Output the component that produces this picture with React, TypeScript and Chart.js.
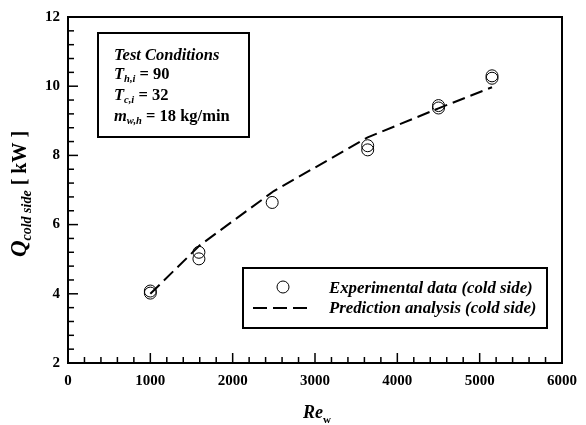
import React, { useEffect, useRef } from "react";
import { Chart, registerables } from "chart.js";

Chart.register(...registerables);

// Experimental data (cold side)
const expRe = [1000, 1000, 1590, 1590, 2480, 3640, 3640, 4500, 4500, 5150, 5150];
const expQ = [4.08, 4.02, 5.2, 5.01, 6.64, 8.28, 8.16, 9.44, 9.37, 10.3, 10.23];

// Prediction analysis (cold side)
const predRe = [1000, 1600, 2500, 3640, 4500, 5150];
const predQ = [4.0, 5.4, 6.97, 8.52, 9.36, 9.97];

const xTicks = [0, 1000, 2000, 3000, 4000, 5000, 6000];
const yTicks = [2, 4, 6, 8, 10, 12];

const SERIF = "'Liberation Serif', 'Times New Roman', serif";

function drawSub(ctx: CanvasRenderingContext2D, x: number, y: number, parts: [string, string, number][]) {
  let cx = x;
  for (const [text, font, dy] of parts) {
    ctx.font = font;
    ctx.fillText(text, cx, y + dy);
    cx += ctx.measureText(text).width;
  }
  return cx - x;
}

function measure(ctx: CanvasRenderingContext2D, parts: [string, string, number][]) {
  let w = 0;
  for (const [text, font] of parts) {
    ctx.font = font;
    w += ctx.measureText(text).width;
  }
  return w;
}

const decorPlugin = {
  id: "decor",
  afterDatasetsDraw(chart: any) {
    const ctx: CanvasRenderingContext2D = chart.ctx;
    const { left, right, top, bottom } = chart.chartArea;
    const xs = chart.scales.x;
    const ys = chart.scales.y;
    ctx.save();
    ctx.strokeStyle = "#000";
    ctx.fillStyle = "#000";
    // frame
    ctx.lineWidth = 2;
    ctx.strokeRect(left, top, right - left, bottom - top);
    // ticks (inward)
    ctx.lineWidth = 1.5;
    for (let v = xs.min; v <= xs.max + 1e-6; v += 200) {
      const major = Math.abs(v % 1000) < 1e-6;
      const px = xs.getPixelForValue(v);
      ctx.beginPath();
      ctx.moveTo(px, bottom);
      ctx.lineTo(px, bottom - (major ? 10 : 6));
      ctx.stroke();
    }
    for (let i = 0; i <= 25; i++) {
      const v = ys.min + i * 0.4;
      const major = i % 5 === 0;
      const py = ys.getPixelForValue(v);
      ctx.beginPath();
      ctx.moveTo(left, py);
      ctx.lineTo(left + (major ? 10 : 6), py);
      ctx.stroke();
    }

    // Test conditions box
    ctx.lineWidth = 2;
    ctx.strokeRect(98, 33, 151, 104);
    ctx.textBaseline = "alphabetic";
    ctx.textAlign = "left";
    const bi = `italic bold 16.5px ${SERIF}`;
    const b = `bold 16.5px ${SERIF}`;
    const sub = `italic bold 10.5px ${SERIF}`;
    ctx.font = bi;
    ctx.fillText("Test Conditions", 114, 60);
    drawSub(ctx, 114, 79, [["T", bi, 0], ["h,i", sub, 3], [" = 90", b, 0]]);
    drawSub(ctx, 114, 100, [["T", bi, 0], ["c,i", sub, 3], [" = 32", b, 0]]);
    drawSub(ctx, 114, 121, [["m", bi, 0], ["w,h", sub, 3], [" = 18 kg/min", b, 0]]);

    // legend box
    ctx.strokeRect(243, 268, 304, 60);
    ctx.lineWidth = 1;
    ctx.beginPath();
    ctx.arc(283, 287, 6, 0, Math.PI * 2);
    ctx.stroke();
    ctx.lineWidth = 2;
    ctx.setLineDash([14, 6]);
    ctx.beginPath();
    ctx.moveTo(253, 308);
    ctx.lineTo(308, 308);
    ctx.stroke();
    ctx.setLineDash([]);
    ctx.font = `italic bold 16.8px ${SERIF}`;
    ctx.fillText("Experimental data (cold side)", 329, 293);
    ctx.fillText("Prediction analysis (cold side)", 329, 313);

    // x title
    drawSub(ctx, 303, 418, [["Re", `italic bold 18px ${SERIF}`, 0], ["w", `bold 11px ${SERIF}`, 5]]);

    // y title
    const yParts: [string, string, number][] = [
      ["Q", `italic bold 23px ${SERIF}`, 0],
      ["cold side", `italic bold 14px ${SERIF}`, 5],
      [" [ kW ]", `bold 20px ${SERIF}`, 0],
    ];
    const tw = measure(ctx, yParts);
    ctx.translate(26, 194 + tw / 2);
    ctx.rotate(-Math.PI / 2);
    drawSub(ctx, 0, 0, yParts);
    ctx.restore();
  },
};

export default function App() {
  const ref = useRef<HTMLCanvasElement>(null);
  useEffect(() => {
    if (!ref.current) return;
    const chart = new Chart(ref.current, {
      type: "scatter",
      data: {
        datasets: [
          {
            label: "Experimental data (cold side)",
            data: expRe.map((x, i) => ({ x, y: expQ[i] })),
            pointStyle: "circle",
            pointRadius: 6,
            pointBorderWidth: 1,
            pointBorderColor: "#000",
            pointBackgroundColor: "rgba(0,0,0,0)",
            showLine: false,
          },
          {
            label: "Prediction analysis (cold side)",
            data: predRe.map((x, i) => ({ x, y: predQ[i] })),
            showLine: true,
            borderColor: "#000",
            borderWidth: 2,
            borderDash: [13, 6],
            pointRadius: 0,
            tension: 0,
          } as any,
        ],
      },
      options: {
        responsive: false,
        animation: false,
        layout: { padding: { top: 12, right: 16, left: 0, bottom: 0 } },
        plugins: { legend: { display: false }, tooltip: { enabled: false } },
        scales: {
          x: {
            type: "linear",
            min: 0,
            max: 6000,
            afterBuildTicks: (s: any) => {
              s.ticks = xTicks.map((v) => ({ value: v }));
            },
            afterFit: (s: any) => {
              s.height = 62;
            },
            ticks: {
              color: "#000",
              font: { family: SERIF, size: 15, weight: "bold" },
              padding: 9,
              maxRotation: 0,
              autoSkip: false,
              callback: (v: any) => String(v),
            },
            grid: { display: false, drawTicks: false },
            border: { display: false },
          },
          y: {
            type: "linear",
            min: 2,
            max: 12,
            afterBuildTicks: (s: any) => {
              s.ticks = yTicks.map((v) => ({ value: v }));
            },
            afterFit: (s: any) => {
              s.width = 68;
            },
            ticks: {
              color: "#000",
              font: { family: SERIF, size: 15, weight: "bold" },
              padding: 8,
              autoSkip: false,
              callback: (v: any) => String(v),
            },
            grid: { display: false, drawTicks: false },
            border: { display: false },
          },
        },
      },
      plugins: [decorPlugin],
    } as any);
    return () => chart.destroy();
  }, []);
  return (
    <div style={{ position: "fixed", left: 0, top: 0, width: 586, height: 425, background: "#fff" }}>
      <canvas ref={ref} width={586} height={425} />
    </div>
  );
}
